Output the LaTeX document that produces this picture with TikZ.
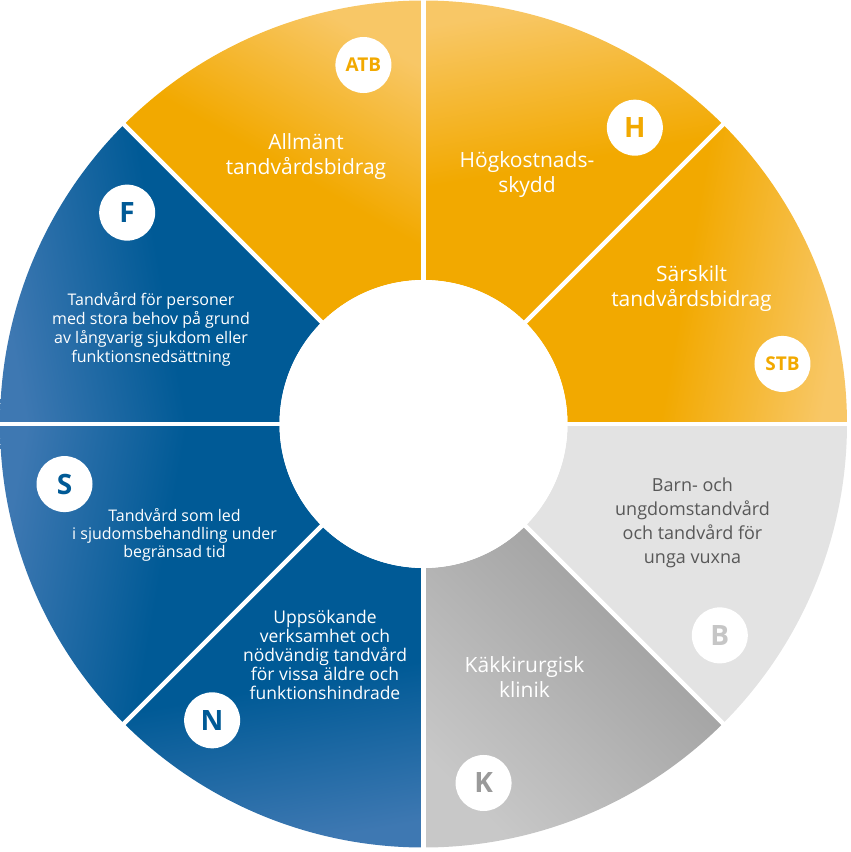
\documentclass[tikz,border=0pt]{standalone}
\usepackage{fontspec}
\setmainfont{Open Sans}
\definecolor{ringorange}{HTML}{F2A900}
\definecolor{ringorangelight}{HTML}{F8C766}
\definecolor{ringblue}{HTML}{005A96}
\definecolor{ringbluelight}{HTML}{3E78B2}
\definecolor{ringgray}{HTML}{9A9A9A}
\definecolor{ringgraylight}{HTML}{C8C8C8}
\definecolor{ringpale}{HTML}{E3E3E3}
\definecolor{paletext}{HTML}{585858}
\definecolor{palebadge}{HTML}{C6C6C6}
\tikzset{
  seglabel/.style={text=white, align=center, font=\fontsize{21}{25}\selectfont},
  smalllabel/.style={text=white, align=center, font=\fontsize{16}{19}\selectfont},
  badge/.style={circle, fill=white, minimum size=56pt, inner sep=0pt,
    font=\fontsize{28}{28}\selectfont\bfseries},
  smallbadge/.style={badge, font=\fontsize{19}{19}\selectfont\bfseries},
  gap/.style={white, line width=4.5pt},
}
\begin{document}
\begin{tikzpicture}[x=1pt,y=1pt]
\useasboundingbox (-423.5,-428) rectangle (427.5,424);
\def\rout{423.5}
\def\rin{144}
%% ring segments: start angle / light colour / main colour / shading angle
\foreach \a/\ca/\cb/\sh in {90/ringorangelight/ringorange/-30,
    45/ringorangelight/ringorange/10, 0/ringorangelight/ringorange/-100,
    -45/ringpale/ringpale/0, -135/ringbluelight/ringblue/-170,
    180/ringbluelight/ringblue/80, 135/ringbluelight/ringblue/100}
  \path[top color=\ca, bottom color=\cb, middle color=\cb, shading angle=\sh]
    (\a:\rout) arc[start angle=\a, end angle=\a+45, radius=\rout]
    -- ({\a+45}:\rin) arc[start angle=\a+45, end angle=\a, radius=\rin] -- cycle;
\path[top color=ringgraylight, bottom color=ringgray, shading angle=135]
  (-90:\rout) arc[start angle=-90, end angle=-45, radius=\rout]
  -- (-45:\rin) arc[start angle=-45, end angle=-90, radius=\rin] -- cycle;
%% white gaps and hub
\foreach \a in {0,45,...,315}
  \draw[gap] (0,0) -- (\a:430);
\node[circle, fill=white, minimum size=288pt, inner sep=0pt] (hub) at (0,0) {};
%% labels
\node[seglabel] (atb) at (-117.5,267) {Allmänt\\tandvårdsbidrag};
\node[seglabel] (hks) at (103.5,249) {Högkostnads-\\skydd};
\node[seglabel] (stb) at (268,135) {Särskilt\\tandvårdsbidrag};
\node[seglabel, text=paletext, font=\fontsize{18}{24}\selectfont] (barn) at (269,-99)
  {Barn- och\\ungdomstandvård\\och tandvård för\\unga vuxna};
\node[seglabel] (kak) at (101,-253) {Käkkirurgisk\\klinik};
\node[smalllabel, font=\fontsize{17.5}{19}\selectfont] (upps) at (-98.5,-231)
  {Uppsökande\\verksamhet och\\nödvändig tandvård\\för vissa äldre och\\funktionshindrade};
\node[smalllabel, font=\fontsize{16}{18}\selectfont] (sjuk) at (-249,-111)
  {Tandvård som led\\i sjudomsbehandling under\\begränsad tid};
\node[smalllabel] (pers) at (-272.5,95)
  {Tandvård för personer\\med stora behov på grund\\av långvarig sjukdom eller\\funktionsnedsättning};
%% badges
\node[smallbadge, text=ringorange] (bATB) at (99.5:364) {ATB};
\node[badge, text=ringorange] (bH) at (54.5:364) {H};
\node[smallbadge, text=ringorange] (bSTB) at (9.5:364) {STB};
\node[badge, text=palebadge] (bB) at (-35.5:364) {B};
\node[badge, text=ringgray] (bK) at (-80.5:364) {K};
\node[badge, text=ringblue] (bN) at (-125.5:364) {N};
\node[badge, text=ringblue] (bS) at (-170.5:364) {S};
\node[badge, text=ringblue] (bF) at (144.5:364) {F};
\end{tikzpicture}
\end{document}
